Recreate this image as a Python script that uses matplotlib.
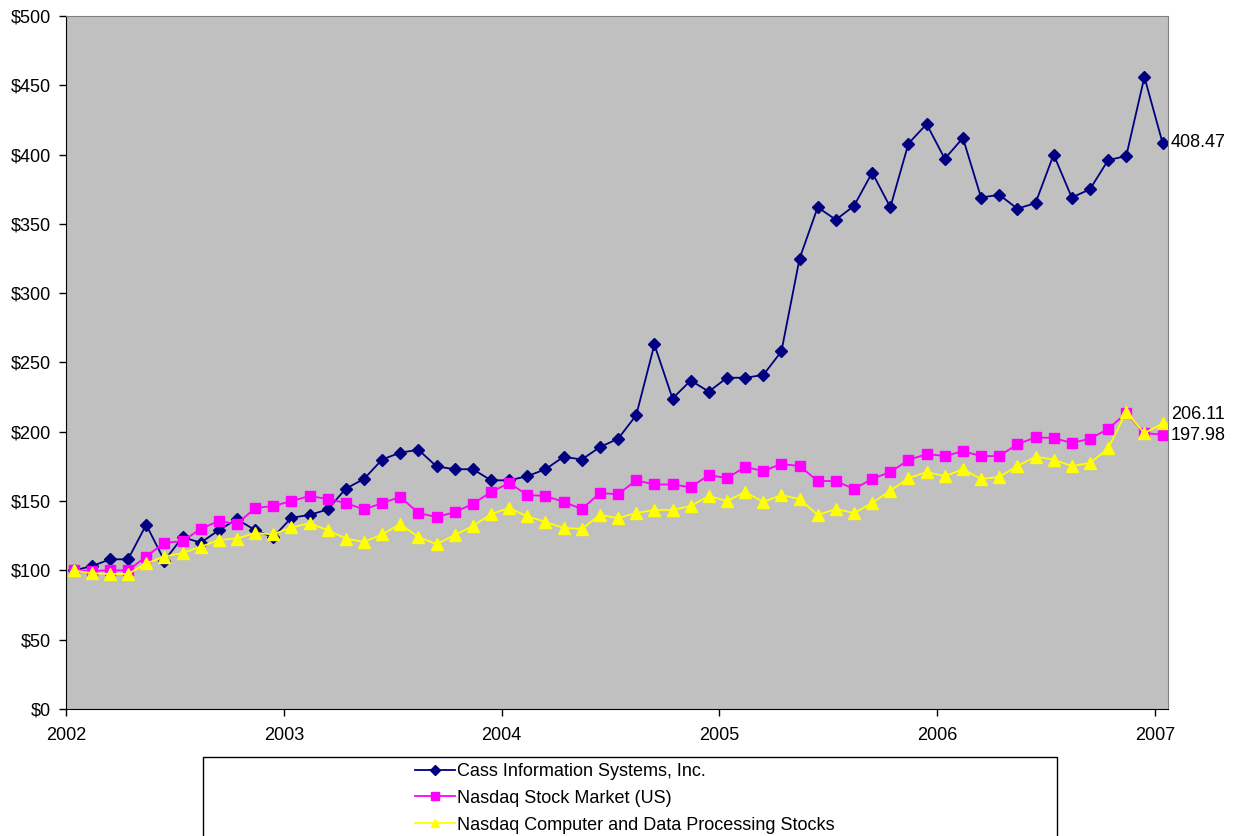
import matplotlib as mpl
mpl.use('Agg')
import matplotlib.pyplot as plt
from matplotlib.patches import Rectangle
from matplotlib.ticker import FuncFormatter

plt.rcParams['font.family'] = ['Liberation Sans', 'DejaVu Sans']

# monthly points, Jan 2002 .. Jan 2007 (decimal years, mid-month-ish)
months = [2002 + 0.035 + i / 12.0 for i in range(61)]

cass = [100, 103, 108, 108, 133, 107, 124, 120, 129, 137, 129, 124,
        138, 140, 144, 159, 166, 180, 185, 187, 175, 173, 173, 165,
        165, 168, 173, 182, 180, 189, 195, 212, 263, 224, 237, 229,
        239, 239, 241, 258, 325, 362, 353, 363, 387, 362, 408, 422,
        397, 412, 369, 371, 361, 365, 400, 369, 375, 396, 399, 456,
        408.47]
nasdaq = [100, 99.6, 100, 100, 110, 120, 121, 130, 135.6, 133.5, 145, 146.5,
          150, 153.7, 151.5, 148.6, 144, 148.6, 153, 141.4, 138.5, 142, 148, 156.6,
          163, 154.4, 153.7, 149.4, 144.3, 155.8, 155, 165, 162, 162, 160, 168.8,
          166.6, 174.6, 171.7, 176.8, 175.3, 164.5, 164.5, 158.7, 166, 171, 179.6, 184,
          182.5, 186, 182.5, 182.5, 191, 196, 195.5, 192, 195, 202, 213.5, 199,
          197.98]
computer = [100, 98, 97.4, 97.4, 105, 110, 112.6, 117, 122, 123, 127, 126,
            131, 134, 129, 123, 120.5, 126, 133.5, 124, 119, 125.5, 132, 140.7,
            145, 139, 135, 130.6, 130, 140, 137.8, 141.4, 143.6, 143.6, 146.5, 153.7,
            150, 156.6, 149.4, 154.4, 151.5, 140, 144.3, 141.4, 148.6, 157.6, 166.5, 171,
            168, 173, 166, 167.5, 175.3, 182, 180, 175.3, 177.5, 188, 214.3, 199,
            206.11]

labels = ['Cass Information Systems, Inc.', 'Nasdaq Stock Market (US)',
          'Nasdaq Computer and Data Processing Stocks']
years = [2002, 2003, 2004, 2005, 2006, 2007]

W, H = 1239, 836
fig = plt.figure(figsize=(W / 100, H / 100), dpi=100)
ax = fig.add_axes([66 / W, 1 - 709 / H, (1168 - 66) / W, (709 - 16) / H])
ax.set_facecolor('#C0C0C0')

l1, = ax.plot(months, cass, color='#000080', lw=1.3, marker='D', ms=6.5,
              mec='#000080', mfc='#000080')
l2, = ax.plot(months, nasdaq, color='#FF00FF', lw=1.3, marker='s', ms=7.5,
              mec='#FF00FF', mfc='#FF00FF')
l3, = ax.plot(months, computer, color='#FFFF00', lw=1.3, marker='^', ms=8,
              mec='#FFFF00', mfc='#FFFF00')

ax.set_xlim(2002, 2007.06)
ax.set_ylim(0, 500)
ax.set_xticks(years)
ax.set_xticklabels([str(y) for y in years])
ax.set_yticks(range(0, 501, 50))
ax.yaxis.set_major_formatter(FuncFormatter(lambda v, p: '$%d' % v))
ax.tick_params(axis='both', direction='out', length=5, width=1, labelsize=13,
               color='black')
ax.tick_params(axis='y', pad=6)
ax.tick_params(axis='x', pad=8)
for s in ['top', 'right']:
    ax.spines[s].set_color('#808080')
for s in ['left', 'bottom']:
    ax.spines[s].set_color('black')

# end-value labels
ax.annotate('%.2f' % cass[-1], xy=(months[-1], cass[-1]), xytext=(6, 0),
            textcoords='offset points', va='center', ha='left', fontsize=13,
            annotation_clip=False)
ax.annotate('%.2f' % computer[-1], xy=(months[-1], computer[-1]), xytext=(6, 6),
            textcoords='offset points', va='center', ha='left', fontsize=13,
            annotation_clip=False)
ax.annotate('%.2f' % nasdaq[-1], xy=(months[-1], nasdaq[-1]), xytext=(6, -1),
            textcoords='offset points', va='center', ha='left', fontsize=13,
            annotation_clip=False)

# legend box, runs off the bottom of the picture
fig.patches.append(Rectangle((203 / W, -0.05), (1057 - 203) / W, (836 - 757) / H + 0.05,
                             transform=fig.transFigure, fill=False,
                             edgecolor='black', lw=1))
fig.legend([l1, l2, l3], labels, loc='upper left',
           bbox_to_anchor=(415 / W, 1 - 763 / H), frameon=False, fontsize=13,
           handlelength=2.2, handletextpad=0.15, labelspacing=0.54,
           borderaxespad=0, borderpad=0, markerscale=0.8)

fig.savefig('out.png', dpi=100)
